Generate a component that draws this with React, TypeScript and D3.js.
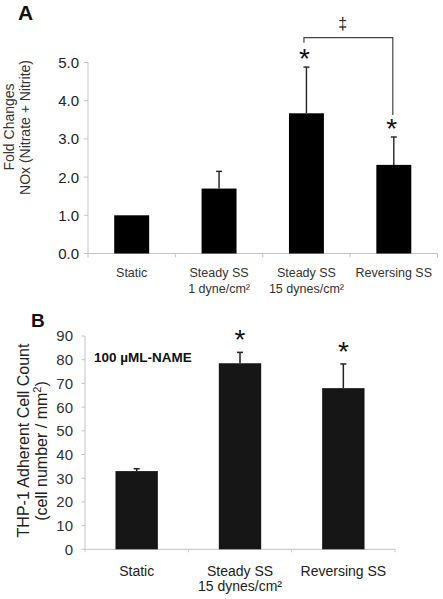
import React from "react";
import * as d3 from "d3";

// ---------- Panel A data ----------
const catsA = ["Static", "Steady SS 1", "Steady SS 15", "Reversing SS"];
const labelsA1 = ["Static", "Steady SS", "Steady SS", "Reversing SS"];
const labelsA2 = ["", "1 dyne/cm²", "15 dynes/cm²", ""];
const valuesA = [1.0, 1.7, 3.67, 2.32];
const errorsA = [0, 0.45, 1.21, 0.73];
const starsA = [false, false, true, true];
const ticksA = [0, 1, 2, 3, 4, 5];

// ---------- Panel B data ----------
const catsB = ["Static", "Steady SS 15", "Reversing SS"];
const labelsB1 = ["Static", "Steady SS", "Reversing SS"];
const labelsB2 = ["", "15 dynes/cm²", ""];
const valuesB = [33, 78.5, 68];
const errorsB = [1, 4.6, 10.2];
const starsB = [false, true, true];
const ticksB = [0, 10, 20, 30, 40, 50, 60, 70, 80, 90];

const FONT = "'Liberation Sans', Arial, sans-serif";

export default function App() {
  // Panel A scales
  const yA = d3.scaleLinear().domain([0, 5]).range([253.5, 62.5]);
  const xA = d3.scaleBand<string>().domain(catsA).range([88, 437.5]).padding(0);
  const bwA = xA.bandwidth() * 0.4;
  const cxA = (i: number) => (xA(catsA[i]) as number) + xA.bandwidth() / 2;

  // Panel B scales
  const yB = d3.scaleLinear().domain([0, 90]).range([549.3, 336]);
  const xB = d3.scaleBand<string>().domain(catsB).range([85, 395]).padding(0);
  const bwB = xB.bandwidth() * 0.41;
  const cxB = (i: number) => (xB(catsB[i]) as number) + xB.bandwidth() / 2;

  const axisColor = "#c4c4c4";
  const bracketY = yA(5.65);

  return (
    <svg
      width={443}
      height={599}
      style={{ position: "absolute", left: 0, top: 0, background: "#fff" }}
      fontFamily={FONT}
    >
      <rect x={0} y={0} width={443} height={599} fill="#fff" />
      {/* ================= Panel A ================= */}
      <text x={18} y={20} fontSize={21} fontWeight="bold" fill="#111">A</text>
      {/* y axis title */}
      <text
        transform={`translate(13.5,127) rotate(-90)`}
        textAnchor="middle"
        fontSize={14}
        fill="#333"
      >
        Fold Changes
      </text>
      <text
        transform={`translate(30,127.5) rotate(-90)`}
        textAnchor="middle"
        fontSize={14}
        fill="#333"
      >
        NOx (Nitrate + Nitrite)
      </text>
      {/* y axis */}
      <line x1={88} x2={88} y1={yA(5)} y2={yA(0)} stroke={axisColor} strokeWidth={1} />
      {ticksA.map((t) => (
        <g key={"ta" + t}>
          <line x1={84} x2={88} y1={yA(t)} y2={yA(t)} stroke={axisColor} />
          <text x={79} y={yA(t)} dy="0.36em" textAnchor="end" fontSize={15} fill="#222">
            {t.toFixed(1)}
          </text>
        </g>
      ))}
      {/* x axis */}
      <line x1={88} x2={437.5} y1={yA(0)} y2={yA(0)} stroke={axisColor} />
      {catsA.map((c) => (
        <line key={"da" + c} x1={xA(c) as number} x2={xA(c) as number} y1={yA(0)} y2={yA(0) + 4} stroke={axisColor} />
      ))}
      <line x1={437.5} x2={437.5} y1={yA(0)} y2={yA(0) + 4} stroke={axisColor} />
      {/* bars */}
      {valuesA.map((v, i) => (
        <rect key={"ba" + i} x={cxA(i) - bwA / 2} y={yA(v)} width={bwA} height={yA(0) - yA(v)} fill="#000" />
      ))}
      {/* error bars */}
      {valuesA.map((v, i) =>
        errorsA[i] > 0 ? (
          <g key={"ea" + i} stroke="#222" strokeWidth={1.4}>
            <line x1={cxA(i)} x2={cxA(i)} y1={yA(v)} y2={yA(v + errorsA[i])} />
            <line x1={cxA(i) - 3} x2={cxA(i) + 3} y1={yA(v + errorsA[i])} y2={yA(v + errorsA[i])} />
          </g>
        ) : null
      )}
      {/* asterisks */}
      {valuesA.map((v, i) =>
        starsA[i] ? (
          <text key={"sa" + i} x={cxA(i) - 2} y={yA(v + errorsA[i]) - 14 + 15} textAnchor="middle" fontSize={28} fill="#111">
            *
          </text>
        ) : null
      )}
      {/* significance bracket */}
      <path
        d={`M${cxA(2) - 2.5},${bracketY + 5} V${bracketY} H${cxA(3) - 1} V${yA(valuesA[3] + errorsA[3]) - 22}`}
        fill="none"
        stroke="#444"
        strokeWidth={1.2}
      />
      <text x={(cxA(2) + cxA(3)) / 2 - 7.5} y={29} textAnchor="middle" fontSize={16} fill="#222">
        ‡
      </text>
      {/* x labels */}
      {catsA.map((c, i) => (
        <g key={"la" + c}>
          <text x={cxA(i)} y={276.5} textAnchor="middle" fontSize={12.5} fill="#333">
            {labelsA1[i]}
          </text>
          {labelsA2[i] && (
            <text x={cxA(i)} y={293} textAnchor="middle" fontSize={12.5} fill="#333">
              {labelsA2[i]}
            </text>
          )}
        </g>
      ))}

      {/* ================= Panel B ================= */}
      <text x={31} y={327} fontSize={19} fontWeight="bold" fill="#111">B</text>
      <text
        transform={`translate(28.5,440.5) rotate(-90)`}
        textAnchor="middle"
        fontSize={16}
        fill="#222"
      >
        THP-1 Adherent Cell Count
      </text>
      <text
        transform={`translate(46.5,451) rotate(-90)`}
        textAnchor="middle"
        fontSize={16}
        fill="#222"
      >
        (cell number / mm
        <tspan fontSize={11} dy={-6}>2</tspan>
        <tspan dy={6}>)</tspan>
      </text>
      {/* y axis */}
      <line x1={85} x2={85} y1={yB(90)} y2={yB(0)} stroke={axisColor} />
      {ticksB.map((t) => (
        <g key={"tb" + t}>
          <line x1={81.5} x2={85} y1={yB(t)} y2={yB(t)} stroke={axisColor} />
          <text x={73} y={yB(t)} dy="0.36em" textAnchor="end" fontSize={15} fill="#333">
            {t}
          </text>
        </g>
      ))}
      {/* x axis */}
      <line x1={85} x2={395} y1={yB(0)} y2={yB(0)} stroke={axisColor} />
      {catsB.map((c) => (
        <line key={"db" + c} x1={xB(c) as number} x2={xB(c) as number} y1={yB(0)} y2={yB(0) + 3} stroke={axisColor} />
      ))}
      <line x1={395} x2={395} y1={yB(0)} y2={yB(0) + 3} stroke={axisColor} />
      {/* bars */}
      {valuesB.map((v, i) => (
        <rect key={"bb" + i} x={cxB(i) - bwB / 2} y={yB(v)} width={bwB} height={yB(0) - yB(v)} fill="#161616" />
      ))}
      {valuesB.map((v, i) => (
        <g key={"eb" + i} stroke="#222" strokeWidth={1.5}>
          <line x1={cxB(i)} x2={cxB(i)} y1={yB(v)} y2={yB(v + errorsB[i])} />
          <line x1={cxB(i) - 3} x2={cxB(i) + 3} y1={yB(v + errorsB[i])} y2={yB(v + errorsB[i])} />
        </g>
      ))}
      {valuesB.map((v, i) =>
        starsB[i] ? (
          <text key={"sb" + i} x={cxB(i)} y={yB(v + errorsB[i]) - 18 + 15} textAnchor="middle" fontSize={28} fill="#111">
            *
          </text>
        ) : null
      )}
      <text x={94} y={361.7} fontSize={13.5} fontWeight="bold" fill="#111">
        100 µML-NAME
      </text>
      {catsB.map((c, i) => (
        <g key={"lb" + c}>
          <text x={cxB(i)} y={576} textAnchor="middle" fontSize={14} fill="#222">
            {labelsB1[i]}
          </text>
          {labelsB2[i] && (
            <text x={cxB(i)} y={590.5} textAnchor="middle" fontSize={14} fill="#222">
              {labelsB2[i]}
            </text>
          )}
        </g>
      ))}
    </svg>
  );
}
